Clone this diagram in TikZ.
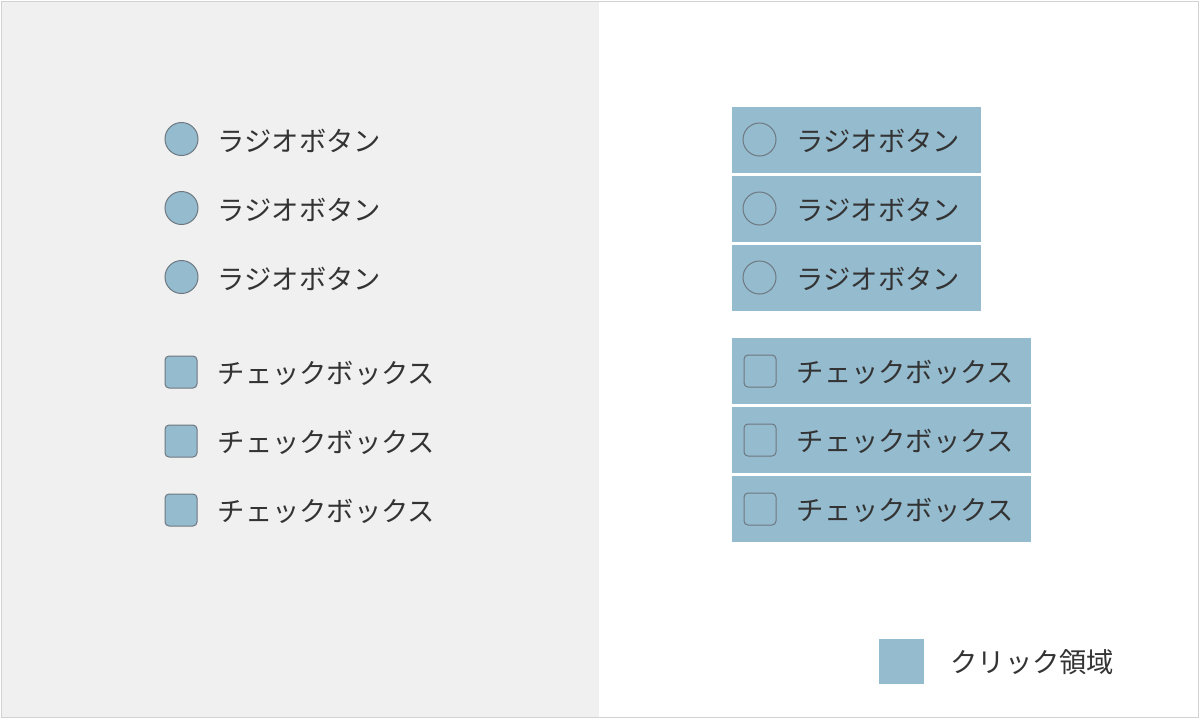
\documentclass[tikz,border=0pt]{standalone}
\usepackage{fontspec}
\setmainfont{Noto Sans CJK JP}
\usepackage{xcolor}
\usepackage{tikz}
\usetikzlibrary{positioning}
\definecolor{areablue}{HTML}{95BBCF}
\definecolor{panelgray}{HTML}{F0F0F0}
\definecolor{framegray}{HTML}{D2D2D2}
\definecolor{markgray}{HTML}{6E7880}
\definecolor{itemgray}{HTML}{333333}
\tikzstyle{region} = [fill=areablue, rectangle, inner sep=0pt, minimum height=66pt]
\tikzstyle{radio} = [circle, draw=markgray, fill=areablue, line width=1pt, minimum size=33pt, inner sep=0pt]
\tikzstyle{radioline} = [circle, draw=markgray, line width=1pt, minimum size=33pt, inner sep=0pt]
\tikzstyle{checkbox} = [rectangle, rounded corners=4pt, draw=markgray, fill=areablue, line width=1pt, minimum size=32pt, inner sep=0pt]
\tikzstyle{checkline} = [rectangle, rounded corners=4pt, draw=markgray, line width=1pt, minimum size=32pt, inner sep=0pt]
\tikzstyle{itemtext} = [text=itemgray, inner sep=0pt, yshift=-1.5pt, font=\fontsize{27.3}{31}\selectfont]

\begin{document}
\begin{tikzpicture}[x=1pt, y=-1pt, node distance=69pt]
\useasboundingbox (0,0) rectangle (1200,724);

% Panels
\fill [white] (0,0) rectangle (1200,724);
\fill [panelgray] (2,2) rectangle (599,717);
\draw [framegray, line width=1.5pt] (1.5,1.5) rectangle (1198.5,717.5);

% Left side: plain controls
\node [radio] (radioA) at (181.5,139) {};
\node [radio, below of=radioA] (radioB) {};
\node [radio, below of=radioB] (radioC) {};
\node [checkbox] (checkA) at (181,372) {};
\node [checkbox, below of=checkA] (checkB) {};
\node [checkbox, below of=checkB] (checkC) {};

\node [itemtext, right=19pt of radioA] (radioAtext) {ラジオボタン};
\node [itemtext, right=19pt of radioB] (radioBtext) {ラジオボタン};
\node [itemtext, right=19pt of radioC] (radioCtext) {ラジオボタン};
\node [itemtext, right=20pt of checkA] (checkAtext) {チェックボックス};
\node [itemtext, right=20pt of checkB] (checkBtext) {チェックボックス};
\node [itemtext, right=20pt of checkC] (checkCtext) {チェックボックス};

% Right side: click areas
\node [region, minimum width=249pt] (areaA) at (856.2,139.5) {};
\node [region, minimum width=249pt, below of=areaA] (areaB) {};
\node [region, minimum width=249pt, below of=areaB] (areaC) {};
\node [region, minimum width=299pt] (areaD) at (881.2,371) {};
\node [region, minimum width=299pt, below of=areaD] (areaE) {};
\node [region, minimum width=299pt, below of=areaE] (areaF) {};

\node [radioline, right=11pt of areaA.west] (markA) {};
\node [radioline, right=11pt of areaB.west] (markB) {};
\node [radioline, right=11pt of areaC.west] (markC) {};
\node [checkline, right=12pt of areaD.west] (markD) {};
\node [checkline, right=12pt of areaE.west] (markE) {};
\node [checkline, right=12pt of areaF.west] (markF) {};

\node [itemtext, right=20pt of markA] (areaAtext) {ラジオボタン};
\node [itemtext, right=20pt of markB] (areaBtext) {ラジオボタン};
\node [itemtext, right=20pt of markC] (areaCtext) {ラジオボタン};
\node [itemtext, right=20pt of markD] (areaDtext) {チェックボックス};
\node [itemtext, right=20pt of markE] (areaEtext) {チェックボックス};
\node [itemtext, right=20pt of markF] (areaFtext) {チェックボックス};

% Legend
\node [region, minimum width=45pt, minimum height=45pt] (legend) at (901.5,661) {};
\node [itemtext, right=26pt of legend] (legendtext) {クリック領域};

\end{tikzpicture}
\end{document}
